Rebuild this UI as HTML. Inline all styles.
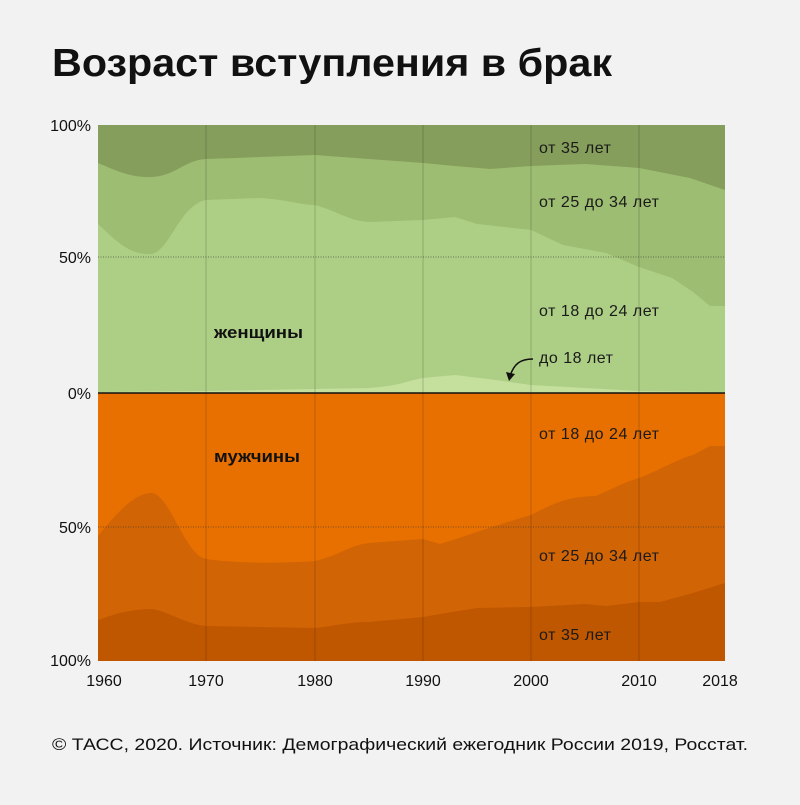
<!DOCTYPE html>
<html><head><meta charset="utf-8"><style>
body{margin:0;background:#f2f2f2;width:800px;height:800px;overflow:hidden;font-family:"Liberation Sans","DejaVu Sans",sans-serif}
</style></head><body>
<svg width="800" height="800" viewBox="0 0 800 800" xmlns="http://www.w3.org/2000/svg" font-family="Liberation Sans, DejaVu Sans, sans-serif">
<rect width="800" height="800" fill="#f2f2f2"/>
<text x="52" y="76" font-size="39" font-weight="bold" fill="#111" textLength="560" lengthAdjust="spacingAndGlyphs">Возраст вступления в брак</text>
<!-- women -->
<rect x="98" y="125" width="627" height="268" fill="#869e5c"/>
<path d="M98,163 C115,170 130,178 152,177 C175,176 185,160 206,159 L315,155 L423,163 L455,166 L490,169 L531,166 L585,164 L639,168 L690,178 L725,190 L725,393 L98,393Z" fill="#9dbd72"/>
<path d="M98,224 C115,240 130,256 152,254 C170,250 180,205 206,200 L260,198 C290,200 300,205 315,205 C340,212 350,222 372,222 L423,220 L455,217 L477,224 L531,230 L563,245 L606,253 L639,267 L672,278 L693,292 L710,306 L725,306 L725,393 L98,393Z" fill="#adcf85"/>
<path d="M98,392 L206,391 L315,389 L369,388 C400,386 410,380 423,378 L455,375 L488,379 L531,385 L585,388 L639,391 L725,392 L725,393 L98,393Z" fill="#c5df9c"/>
<!-- men -->
<rect x="98" y="393" width="627" height="268" fill="#e87000"/>
<path d="M98,536 C115,515 135,492 152,493 C170,495 185,555 206,559 C240,564 290,563 315,561 C340,555 350,545 369,543 L423,539 L440,544 C470,535 480,530 531,515 C560,500 570,497 596,496 C610,490 625,482 639,478 C660,470 680,458 693,455 L710,446 L725,446 L725,661 L98,661Z" fill="#d16405"/>
<path d="M98,620 C120,612 135,609 152,609 C170,612 185,624 206,626 L315,628 C340,625 350,622 369,622 L423,617 L440,614 L477,608 L531,607 L585,604 L606,606 L639,602 L660,602 L693,593 L725,583 L725,661 L98,661Z" fill="#bf5700"/>
<!-- grid -->
<g stroke="#000" stroke-opacity="0.12" stroke-width="1.5">
<line x1="206" y1="125" x2="206" y2="661"/><line x1="315" y1="125" x2="315" y2="661"/><line x1="423" y1="125" x2="423" y2="661"/><line x1="531" y1="125" x2="531" y2="661"/><line x1="639" y1="125" x2="639" y2="661"/>
</g>
<g stroke="#333" stroke-opacity="0.6" stroke-width="1" stroke-dasharray="1,1.5">
<line x1="98" y1="257" x2="725" y2="257"/><line x1="98" y1="527" x2="725" y2="527"/>
</g>
<line x1="98" y1="393" x2="725" y2="393" stroke="#111" stroke-width="1.5"/>
<!-- axis labels -->
<g font-size="16" fill="#111" text-anchor="end">
<text x="91" y="131">100%</text><text x="91" y="263">50%</text><text x="91" y="399">0%</text><text x="91" y="533">50%</text><text x="91" y="666">100%</text>
</g>
<g font-size="16" fill="#111" text-anchor="middle">
<text x="104" y="686">1960</text><text x="206" y="686">1970</text><text x="315" y="686">1980</text><text x="423" y="686">1990</text><text x="531" y="686">2000</text><text x="639" y="686">2010</text><text x="720" y="686">2018</text>
</g>
<g font-size="16" fill="#1a1a1a" lengthAdjust="spacingAndGlyphs">
<text x="539" y="153" textLength="72">от 35 лет</text>
<text x="539" y="207" textLength="120">от 25 до 34 лет</text>
<text x="539" y="316" textLength="120">от 18 до 24 лет</text>
<text x="539" y="363" textLength="74">до 18 лет</text>
<text x="539" y="439" textLength="120">от 18 до 24 лет</text>
<text x="539" y="561" textLength="120">от 25 до 34 лет</text>
<text x="539" y="640" textLength="72">от 35 лет</text>
</g>
<path d="M533,359 C520,359 514,364 510,376" fill="none" stroke="#111" stroke-width="1.5"/>
<path d="M506,372 L509,381 L515,374Z" fill="#111"/>
<text x="214" y="338" font-size="17" font-weight="bold" fill="#111" textLength="89" lengthAdjust="spacingAndGlyphs">женщины</text>
<text x="214" y="462" font-size="17" font-weight="bold" fill="#111" textLength="86" lengthAdjust="spacingAndGlyphs">мужчины</text>
<text x="52" y="750" font-size="17" fill="#111" textLength="696" lengthAdjust="spacingAndGlyphs">© ТАСС, 2020. Источник: Демографический ежегодник России 2019, Росстат.</text>
</svg>
</body></html>
